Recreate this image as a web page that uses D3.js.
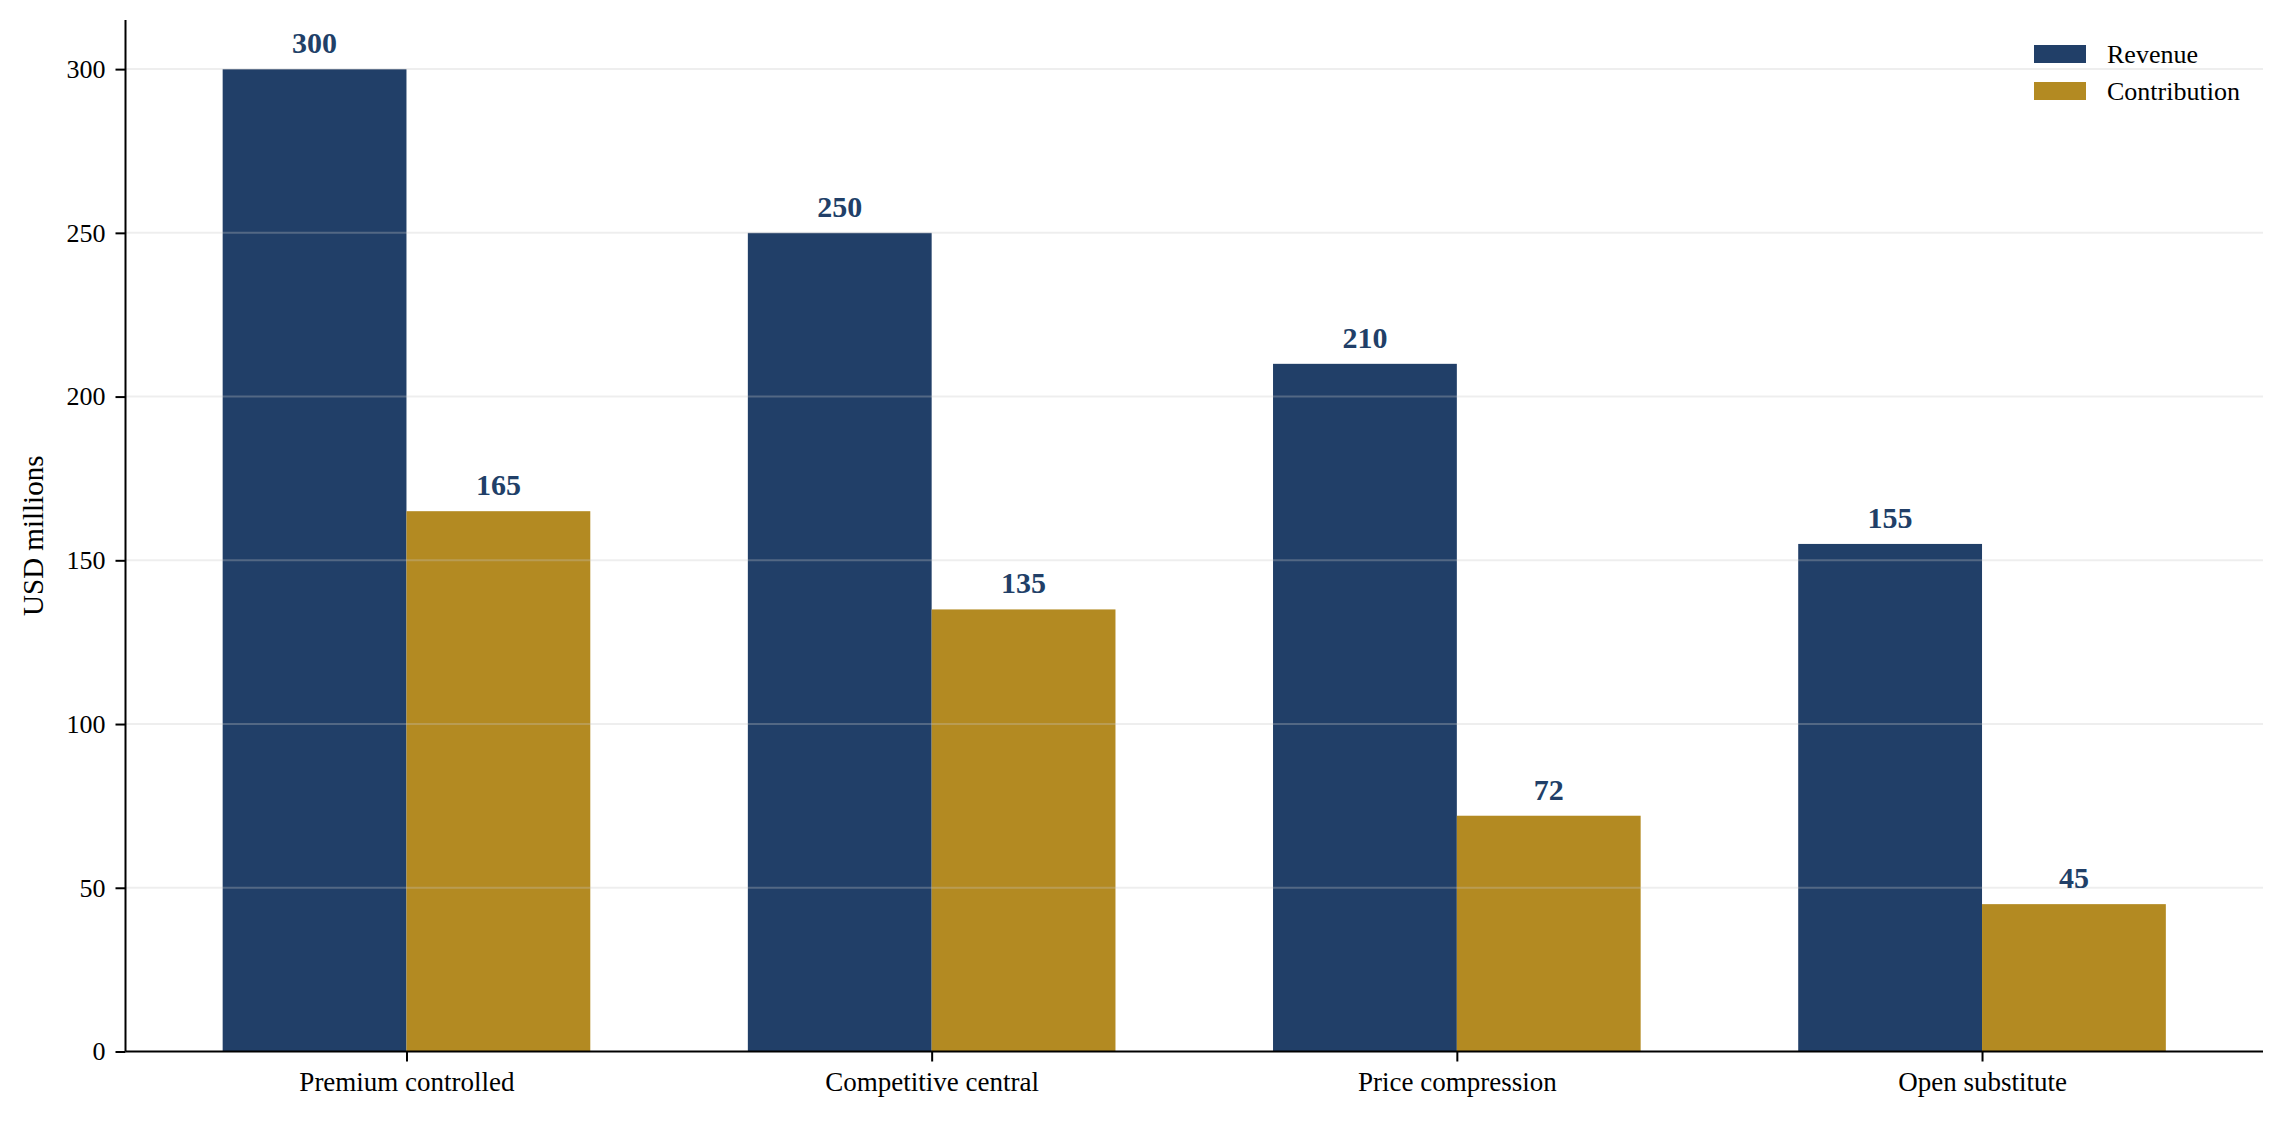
<!DOCTYPE html>
<html>
<head>
<meta charset="utf-8">
<script src="https://cdn.jsdelivr.net/npm/d3@7"></script>
<style>
  body { margin: 0; background: #fff; }
  svg text { font-family: "Liberation Serif", "Times New Roman", serif; }
</style>
</head>
<body>
<svg id="chart" width="2283" height="1121"></svg>
<script>
// chart data
const categories = ["Premium controlled", "Competitive central", "Price compression", "Open substitute"];
const revenue = [300, 250, 210, 155];
const contribution = [165, 135, 72, 45];
const yTicks = [0, 50, 100, 150, 200, 250, 300];
const seriesNames = ["Revenue", "Contribution"];

const navy = "#213f68";
const gold = "#b38a22";

// plot area edges (px)
let plotLeft = 125.5, plotRight = 2263, plotTop = 20, plotBottom = 1051.5;
let barWidth = 0.35;

const svg = d3.select("#chart");

// x is category index, padded like matplotlib's default margins
let xScale = d3.scaleLinear()
  .domain([-barWidth - 0.185, categories.length - 1 + barWidth + 0.185])
  .range([plotLeft, plotRight]);
let yScale = d3.scaleLinear()
  .domain([0, 315])
  .range([plotBottom, plotTop]);

let bars = svg.append("g");
let series = [revenue, contribution];
let colors = [navy, gold];

series.forEach(function (vals, s) {
  bars.selectAll("rect.s" + s)
    .data(vals)
    .enter().append("rect")
    .attr("class", "s" + s)
    .attr("x", (d, i) => xScale(i + (s === 0 ? -barWidth : 0)))
    .attr("y", d => yScale(d))
    .attr("width", xScale(barWidth) - xScale(0))
    .attr("height", d => plotBottom - yScale(d))
    .style("fill", colors[s]);
});

// grid lines on top of the bars, faint
svg.append("g")
  .selectAll("line")
  .data(yTicks.slice(1))
  .enter().append("line")
  .attr("x1", plotLeft)
  .attr("x2", plotRight)
  .attr("y1", d => yScale(d))
  .attr("y2", d => yScale(d))
  .style("stroke", "#c8c8c8")
  .style("stroke-opacity", 0.3)
  .style("stroke-width", 2);

// value labels
series.forEach(function (vals, s) {
  svg.append("g").selectAll("text")
    .data(vals)
    .enter().append("text")
    .attr("x", (d, i) => xScale(i + (s === 0 ? -barWidth / 2 : barWidth / 2)))
    .attr("y", d => yScale(d) - 16)
    .attr("text-anchor", "middle")
    .style("font-size", "30px")
    .style("font-weight", "bold")
    .style("fill", navy)
    .text(d => d);
});

// axes
let yAxis = d3.axisLeft(yScale).tickValues(yTicks).tickSize(10).tickPadding(10).tickSizeOuter(0);
let gy = svg.append("g")
  .attr("transform", "translate(" + plotLeft + ",0)")
  .call(yAxis);
gy.select(".domain").attr("d", "M0," + plotTop + "V" + plotBottom);

let xAxis = d3.axisBottom(xScale)
  .tickValues(d3.range(categories.length))
  .tickFormat(i => categories[i])
  .tickSize(10).tickPadding(10).tickSizeOuter(0);
let gx = svg.append("g")
  .attr("transform", "translate(0," + plotBottom + ")")
  .call(xAxis);
gx.select(".domain").attr("d", "M" + plotLeft + ",0H" + plotRight);

svg.selectAll(".domain").style("stroke", "#000").style("stroke-width", 2);
svg.selectAll(".tick line").style("stroke", "#000").style("stroke-width", 2);
svg.selectAll(".tick text")
  .style("font-family", "'Liberation Serif', 'Times New Roman', serif")
  .style("font-size", "26px")
  .style("fill", "#000");
gx.selectAll(".tick text").style("font-size", "27px");

// y axis label
svg.append("text")
  .attr("transform", "translate(43," + ((plotTop + plotBottom) / 2) + ") rotate(-90)")
  .attr("text-anchor", "middle")
  .style("font-size", "29px")
  .style("fill", "#000")
  .text("USD millions");

// legend
let legend = svg.append("g").attr("transform", "translate(2034,45)");
seriesNames.forEach(function (name, i) {
  legend.append("rect")
    .attr("x", 0)
    .attr("y", i * 37)
    .attr("width", 52)
    .attr("height", 18)
    .style("fill", colors[i]);
  legend.append("text")
    .attr("x", 73)
    .attr("y", i * 37 + 18)
    .style("font-size", "26px")
    .style("fill", "#000")
    .text(name);
});
</script>
</body>
</html>
